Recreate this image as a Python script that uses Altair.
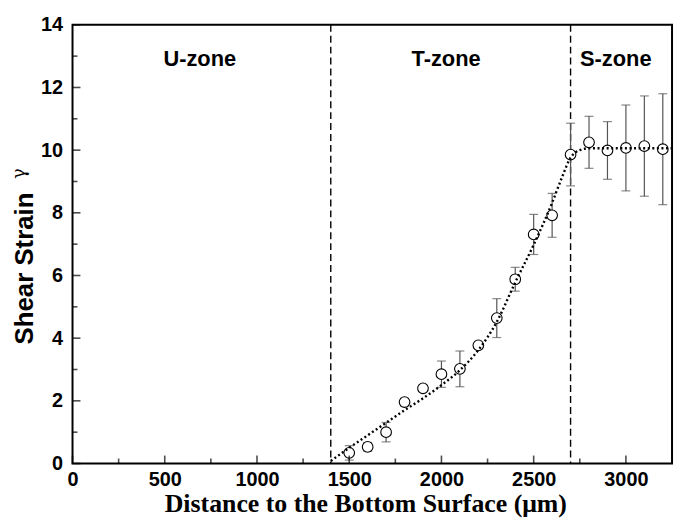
import altair as alt
import pandas as pd

# measured points (distance in µm, shear strain) with error half-widths
x_pts = [1500, 1600, 1700, 1800, 1900, 2000, 2100, 2200, 2300, 2400, 2500, 2600, 2700, 2800, 2900, 3000, 3100, 3200]
y_pts = [0.34, 0.53, 1.00, 1.96, 2.40, 2.85, 3.02, 3.77, 4.64, 5.88, 7.31, 7.92, 9.86, 10.25, 9.99, 10.07, 10.13, 10.03]
y_err = [0.23, 0.14, 0.31, 0.12, 0.10, 0.42, 0.57, 0.08, 0.62, 0.38, 0.64, 0.70, 1.00, 0.83, 0.92, 1.37, 1.60, 1.77]

# dotted fit curve
curve_x = [1400, 1500, 1600, 1700, 1800, 1900, 2000, 2100, 2200, 2300, 2400, 2500, 2600, 2650, 2700, 2750, 2800, 2900, 3000, 3100, 3250]
curve_y = [0.08, 0.50, 0.90, 1.30, 1.70, 2.08, 2.50, 2.98, 3.62, 4.52, 5.78, 6.98, 8.32, 9.08, 9.76, 10.00, 10.06, 10.06, 10.06, 10.06, 10.06]

# zone boundaries and labels
bounds = [1400, 2700]
zone_names = ["U-zone", "T-zone", "S-zone"]
zone_x = [690, 2025, 2945]
zone_y = [12.9, 12.9, 12.9]

x_major = [0, 500, 1000, 1500, 2000, 2500, 3000]
x_minor = [250, 750, 1250, 1750, 2250, 2750]
y_major = [0, 2, 4, 6, 8, 10, 12, 14]
y_minor = [1, 3, 5, 7, 9, 11, 13]

W, H = 604, 442

pts = pd.DataFrame({"x": x_pts, "y": y_pts, "lo": [a - b for a, b in zip(y_pts, y_err)],
                    "hi": [a + b for a, b in zip(y_pts, y_err)]})
curve = pd.DataFrame({"x": curve_x, "y": curve_y})
zones = pd.DataFrame({"name": zone_names, "x": zone_x, "y": zone_y})
bnd = pd.DataFrame({"x": bounds})

xs = alt.Scale(domain=[0, 3250], nice=False)
ys = alt.Scale(domain=[0, 14], nice=False)

X = alt.X("x:Q", scale=xs, axis=alt.Axis(
    values=x_major, format="d", title="Distance to the Bottom Surface (μm)", ticks=False, domain=False, grid=False,
    labelFont="Liberation Sans", labelFontSize=20, labelFontWeight="bold", labelColor="black",
    labelPadding=6, labelFlush=False,
    titleFont="Liberation Serif", titleFontSize=26, titleFontWeight="bold", titleColor="black",
    titleBaseline="alphabetic", titleY=48, titleX=295))
Y = alt.Y("y:Q", scale=ys, axis=alt.Axis(
    values=y_major, format="d", title="Shear Strain", ticks=False, domain=False, grid=False,
    labelFont="Liberation Sans", labelFontSize=20, labelFontWeight="bold", labelColor="black",
    labelPadding=10, labelFlush=False,
    titleFont="Liberation Sans", titleFontSize=26, titleFontWeight="bold", titleColor="black",
    titleAngle=270, titleBaseline="middle", titleAlign="center", titleX=-48, titleY=245))

base_pts = alt.Chart(pts)

bars = base_pts.mark_rule(color="#555555", strokeWidth=1.2).encode(
    x=alt.X("x:Q", scale=xs), y=alt.Y("lo:Q", scale=ys), y2="hi:Q")
cap_hi = base_pts.mark_tick(color="#555555", thickness=1.2, size=9, orient="horizontal").encode(
    x=alt.X("x:Q", scale=xs), y=alt.Y("hi:Q", scale=ys))
cap_lo = base_pts.mark_tick(color="#555555", thickness=1.2, size=9, orient="horizontal").encode(
    x=alt.X("x:Q", scale=xs), y=alt.Y("lo:Q", scale=ys))
circles = base_pts.mark_point(shape="circle", size=115, filled=False, fill="white", fillOpacity=1,
                              stroke="black", strokeWidth=1.1, opacity=1).encode(x=X, y=Y)

line = alt.Chart(curve).mark_line(color="black", strokeWidth=2.4, strokeDash=[2, 2.6],
                                  interpolate="monotone").encode(
    x=alt.X("x:Q", scale=xs), y=alt.Y("y:Q", scale=ys))

dashes = alt.Chart(bnd).mark_rule(color="black", strokeWidth=1.4, strokeDash=[7, 4]).encode(
    x=alt.X("x:Q", scale=xs), y=alt.value(0), y2=alt.value(H))

labels = alt.Chart(zones).mark_text(font="Liberation Sans", fontSize=22, fontWeight="bold",
                                    color="black", align="center", baseline="middle").encode(
    x=alt.X("x:Q", scale=xs), y=alt.Y("y:Q", scale=ys), text="name:N")

gamma = alt.Chart(pd.DataFrame({"t": ["γ"]})).mark_text(
    font="DejaVu Serif", fontSize=18, color="black", angle=270, align="center", baseline="middle").encode(
    x=alt.value(-53), y=alt.value(150), text="t:N")

xt_major = alt.Chart(pd.DataFrame({"x": x_major})).mark_tick(
    color="black", thickness=1.6, size=8, orient="vertical").encode(
    x=alt.X("x:Q", scale=xs), y=alt.value(H - 4))
xt_minor = alt.Chart(pd.DataFrame({"x": x_minor})).mark_tick(
    color="black", thickness=1.6, size=5, orient="vertical").encode(
    x=alt.X("x:Q", scale=xs), y=alt.value(H - 2.5))
yt_major = alt.Chart(pd.DataFrame({"y": y_major})).mark_tick(
    color="black", thickness=1.6, size=8, orient="horizontal").encode(
    y=alt.Y("y:Q", scale=ys), x=alt.value(4))
yt_minor = alt.Chart(pd.DataFrame({"y": y_minor})).mark_tick(
    color="black", thickness=1.6, size=5, orient="horizontal").encode(
    y=alt.Y("y:Q", scale=ys), x=alt.value(2.5))

chart = alt.layer(
    dashes, bars, cap_hi, cap_lo, circles, line, labels, gamma, xt_major, xt_minor, yt_major, yt_minor
).properties(
    width=W, height=H,
    autosize=alt.AutoSizeParams(type="none"),
    padding={"left": 65, "top": 15, "right": 4, "bottom": 56},
    background="white",
).configure_view(stroke="black", strokeWidth=2)

chart.save("out.html", embed_options={"renderer": "svg", "actions": False})
